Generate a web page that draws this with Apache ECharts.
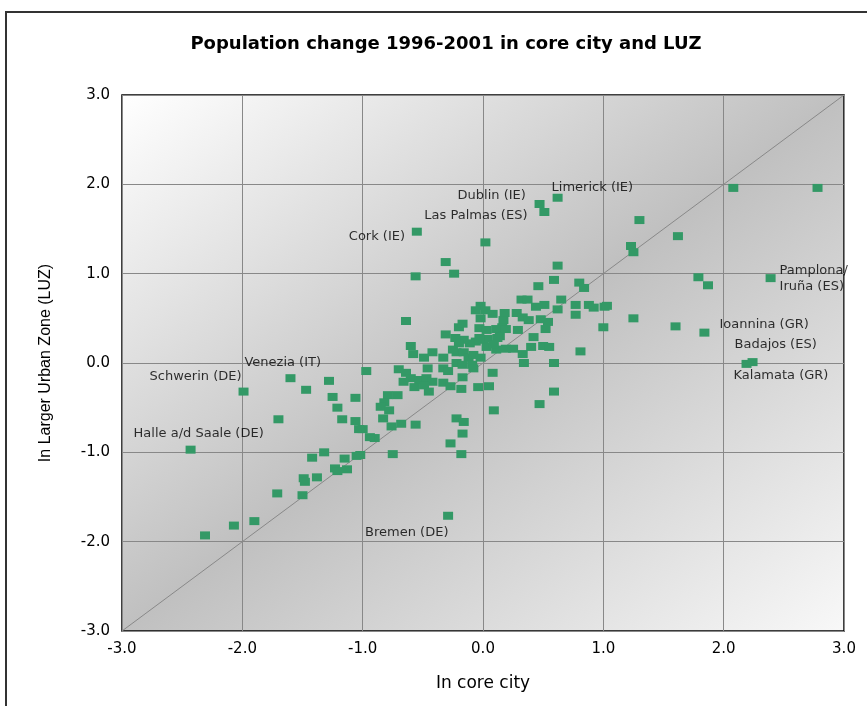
<!DOCTYPE html>
<html><head><meta charset="utf-8">
<script src="https://cdn.jsdelivr.net/npm/echarts@6/dist/echarts.min.js"></script>
<style>html,body{margin:0;padding:0;background:#fff}#c{width:867px;height:706px}</style>
</head><body><div id="c"></div>
<script>
const chartTitle = 'Population change 1996-2001 in core city and LUZ';
const xAxisName = 'In core city';
const yAxisName = 'In Larger Urban Zone (LUZ)';
const axisMin = -3, axisMax = 3, axisStep = 1;

// population change in core city (x) and in the Larger Urban Zone (y), %
const coreCity = [
 2.08, 2.78, 0.62, 0.47, 0.51, 1.30, -0.55, 0.02, 1.62, 1.23,
 1.25, -0.31, -0.24, -0.56, 0.62, 1.79, 1.87, 2.39, 0.59, 0.46,
 0.80, 0.84, 0.32, 0.37, 0.65, 0.44, 0.51, 0.62, 0.77, 0.77,
 0.88, 0.92, 1.01, 1.03, 1.00, 1.25, 1.60, 1.84, 2.19, 2.24,
 0.81, 0.59, 0.59, 0.47, 0.09, 0.08, 0.34, 0.33, 0.25, 0.19,
 0.11, 0.03, 0.00, -0.06, -0.11, -0.16, -0.20, -0.22, -0.25, -0.16,
 -0.12, -0.08, -0.02, -0.22, -0.17, -0.09, -0.08, -0.33, -0.42, -0.49,
 -0.58, -0.60, -0.46, -0.33, -0.29, -0.70, -0.64, -0.60, -0.66, -0.53,
 -0.47, -0.42, -0.57, -0.49, -0.45, -0.33, -0.27, -0.18, -0.17, -0.04,
 0.05, -0.79, -0.71, -0.82, -0.85, -0.78, -0.83, -0.76, -0.68, -0.56,
 -0.22, -0.16, -0.17, -0.27, -0.18, -0.75, -0.90, -0.94, -1.00, -1.03,
 -1.02, -0.29, -0.64, -0.31, -0.20, -0.17, -0.23, -0.03, 0.03, 0.11,
 -0.02, -0.06, 0.02, 0.08, -0.02, 0.18, 0.28, 0.33, 0.38, 0.48,
 0.54, 0.52, 0.42, 0.17, 0.16, 0.19, 0.29, 0.14, 0.40, 0.50,
 0.55, 0.04, -0.03, -0.97, -1.60, -1.47, -1.28, -1.99, -1.25, -1.06,
 -1.21, -1.70, -1.17, -1.06, -2.43, -1.32, -1.42, -1.05, -1.15, -1.23,
 -1.21, -1.13, -1.49, -1.48, -1.38, -1.71, -1.50, -1.90, -2.07, -2.31,
 0.09, 0.12
];
const luz = [
 1.96, 1.96, 1.85, 1.78, 1.69, 1.60, 1.47, 1.35, 1.42, 1.31,
 1.24, 1.13, 1.00, 0.97, 1.09, 0.96, 0.87, 0.95, 0.93, 0.86,
 0.90, 0.84, 0.71, 0.71, 0.71, 0.63, 0.65, 0.60, 0.65, 0.54,
 0.65, 0.62, 0.63, 0.64, 0.40, 0.50, 0.41, 0.34, -0.01, 0.01,
 0.13, 0.00, -0.32, -0.46, -0.53, -0.11, 0.00, 0.10, 0.16, 0.16,
 0.15, 0.18, 0.26, 0.24, 0.22, 0.26, 0.22, 0.12, 0.15, 0.12,
 0.06, 0.09, 0.06, 0.00, -0.02, -0.02, -0.06, 0.06, 0.12, 0.06,
 0.10, 0.19, -0.06, -0.06, -0.09, -0.07, -0.11, -0.17, -0.21, -0.19,
 -0.17, -0.21, -0.27, -0.25, -0.32, -0.22, -0.26, -0.29, -0.16, -0.27,
 -0.26, -0.36, -0.36, -0.44, -0.49, -0.53, -0.62, -0.71, -0.68, -0.69,
 -0.62, -0.66, -0.79, -0.90, -1.02, -1.02, -0.84, -0.83, -0.74, -0.74,
 -1.03, -1.71, 0.47, 0.32, 0.40, 0.44, 0.28, 0.39, 0.37, 0.38,
 0.64, 0.59, 0.59, 0.55, 0.50, 0.56, 0.56, 0.51, 0.48, 0.49,
 0.46, 0.38, 0.29, 0.48, 0.40, 0.38, 0.37, 0.30, 0.18, 0.19,
 0.18, 0.27, 0.28, -0.09, -0.17, -0.30, -0.20, -0.32, -0.38, -0.39,
 -0.50, -0.63, -0.63, -0.65, -0.97, -1.00, -1.06, -1.04, -1.07, -1.18,
 -1.21, -1.19, -1.29, -1.33, -1.28, -1.46, -1.48, -1.77, -1.82, -1.93,
 0.21, 0.28
];

// named cities
const labelNames = ['Limerick (IE)', 'Dublin (IE)', 'Las Palmas (ES)', 'Cork (IE)', 'Pamplona/\nIruña (ES)',
  'Ioannina (GR)', 'Badajos (ES)', 'Kalamata (GR)', 'Venezia (IT)', 'Schwerin (DE)', 'Halle a/d Saale (DE)', 'Bremen (DE)'];
const labelCore = [0.62, 0.47, 0.51, -0.55, 2.39, 1.84, 2.24, 2.19, -1.60, -1.99, -2.43, -0.29];
const labelLuz  = [1.85, 1.78, 1.69, 1.47, 0.95, 0.34, 0.01, -0.01, -0.17, -0.32, -0.97, -1.71];

// label placement (pixels, relative to the point)
const labelPlace = {
  'Limerick (IE)': [-6, -10], 'Dublin (IE)': [-82, -8], 'Las Palmas (ES)': [-120, 4], 'Cork (IE)': [-68, 5],
  'Pamplona/\nIruña (ES)': [9, 0], 'Ioannina (GR)': [15, -8], 'Badajos (ES)': [-18, -17], 'Kalamata (GR)': [-13, 12],
  'Venezia (IT)': [-46, -16], 'Schwerin (DE)': [-94, -15], 'Halle a/d Saale (DE)': [-57, -16], 'Bremen (DE)': [-83, 17]
};

const points = coreCity.map((v, i) => [v, luz[i]]);
const labelData = labelNames.map((n, i) => ({
  name: n, value: [labelCore[i], labelLuz[i]],
  label: { position: labelPlace[n] }
}));

const chart = echarts.init(document.getElementById('c'), null, { renderer: 'canvas' });
const axisLbl = { color: '#000', fontFamily: 'DejaVu Sans', fontSize: 15, formatter: v => v.toFixed(1) };
chart.setOption({
  animation: false,
  title: {
    text: chartTitle, left: 441, top: 30, textAlign: 'center',
    textStyle: { fontFamily: 'DejaVu Sans', fontWeight: 'bold', fontSize: 18, color: '#000' }
  },
  graphic: [{
    type: 'rect', shape: { x: 6, y: 12, width: 900, height: 720 }, z: -10,
    style: { fill: 'none', stroke: '#333', lineWidth: 2 }
  }],
  grid: {
    left: 122, right: 23, top: 95, bottom: 75, show: true,
    borderColor: '#000', borderWidth: 1.5,
    backgroundColor: {
      type: 'linear', global: true, x: 122, y: 95, x2: 635, y2: 786,
      colorStops: [{ offset: 0, color: '#ffffff' }, { offset: 0.5, color: '#c0c0c0' }, { offset: 1, color: '#f8f8f8' }]
    }
  },
  xAxis: {
    type: 'value', min: axisMin, max: axisMax, interval: axisStep,
    name: xAxisName, nameLocation: 'middle', nameGap: 44,
    nameTextStyle: { fontFamily: 'DejaVu Sans', fontSize: 17, color: '#000' },
    axisLine: { show: false }, axisTick: { show: false },
    axisLabel: Object.assign({ margin: 11 }, axisLbl),
    splitLine: { lineStyle: { color: '#888', width: 1 } }
  },
  yAxis: {
    type: 'value', min: axisMin, max: axisMax, interval: axisStep,
    name: yAxisName, nameLocation: 'middle', nameGap: 68,
    nameTextStyle: { fontFamily: 'Liberation Sans', fontSize: 16, color: '#000' },
    axisLine: { show: false }, axisTick: { show: false },
    axisLabel: Object.assign({ margin: 12 }, axisLbl),
    splitLine: { lineStyle: { color: '#888', width: 1 } }
  },
  series: [
    {
      type: 'line', data: [[axisMin, axisMin], [axisMax, axisMax]], showSymbol: false, silent: true,
      lineStyle: { color: '#888', width: 1 }, z: 1
    },
    {
      type: 'scatter', data: points, symbol: 'rect', symbolSize: [10, 8],
      itemStyle: { color: '#339966', opacity: 1 }, z: 3
    },
    {
      type: 'scatter', data: labelData, symbolSize: 0, silent: true, z: 4,
      label: {
        show: true, formatter: p => p.name, align: 'left', verticalAlign: 'middle',
        fontFamily: 'DejaVu Sans', fontSize: 13, color: '#000', lineHeight: 16
      }
    }
  ]
});
</script></body></html>
